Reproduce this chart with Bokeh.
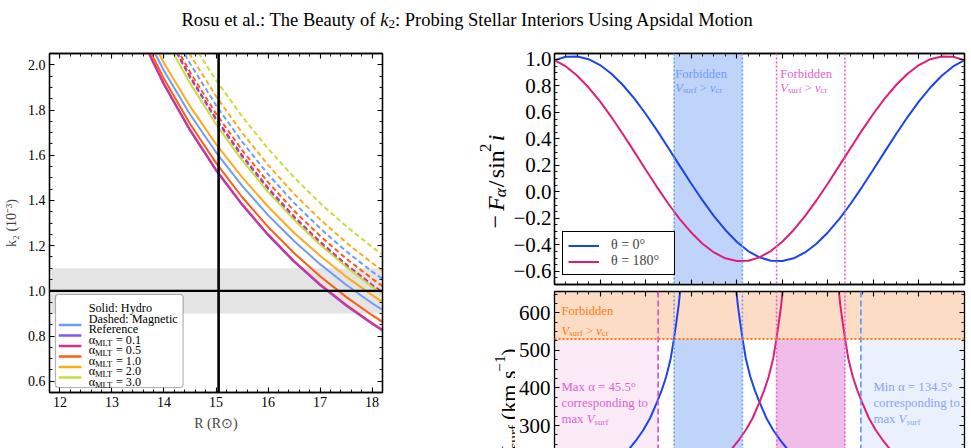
import math
from bokeh.plotting import figure
from bokeh.layouts import column, row
from bokeh.models import (Range1d, LinearAxis, Label, BoxAnnotation, Span, FixedTicker,
                          Legend, LegendItem, CustomJSTickFormatter)
from bokeh.embed import file_html
from bokeh.resources import INLINE

# ---------------- data: left panel (k2 vs R) ----------------
R_grid = [13.5, 14.0, 14.5, 15.0, 15.5, 16.0, 16.5, 17.0, 17.5, 18.0, 18.3]
series_names = ["Reference", "0.1", "0.5", "1.0", "2.0", "3.0"]
series_colors = ["#6e9cf7", "#7a5cf2", "#d8308a", "#ff5b12", "#ffaa1c", "#c6de3c"]
k2_hydro = {
    "Reference": [2.196, 1.974, 1.781, 1.613, 1.465, 1.335, 1.220, 1.118, 1.027, 0.945, 0.901],
    "0.1": [2.148, 1.912, 1.709, 1.532, 1.380, 1.246, 1.128, 1.025, 0.934, 0.853, 0.809],
    "0.5": [2.152, 1.916, 1.713, 1.536, 1.384, 1.250, 1.132, 1.029, 0.938, 0.857, 0.813],
    "1.0": [2.169, 1.938, 1.739, 1.566, 1.415, 1.283, 1.167, 1.064, 0.973, 0.892, 0.847],
    "2.0": [2.227, 2.008, 1.817, 1.649, 1.503, 1.373, 1.257, 1.155, 1.063, 0.981, 0.936],
    "3.0": [2.365, 2.126, 1.919, 1.737, 1.578, 1.438, 1.314, 1.204, 1.106, 1.018, 0.970],
}
k2_magnetic = {
    "Reference": [2.457, 2.215, 2.006, 1.821, 1.660, 1.516, 1.389, 1.277, 1.175, 1.085, 1.036],
    "0.1": [2.402, 2.156, 1.944, 1.757, 1.595, 1.451, 1.324, 1.212, 1.112, 1.022, 0.973],
    "0.5": [2.407, 2.161, 1.949, 1.762, 1.600, 1.456, 1.329, 1.217, 1.117, 1.027, 0.978],
    "1.0": [2.419, 2.177, 1.968, 1.784, 1.623, 1.481, 1.354, 1.243, 1.143, 1.054, 1.004],
    "2.0": [2.492, 2.253, 2.045, 1.861, 1.700, 1.557, 1.429, 1.316, 1.214, 1.123, 1.073],
    "3.0": [2.552, 2.318, 2.113, 1.932, 1.772, 1.629, 1.502, 1.388, 1.286, 1.194, 1.143],
}
R_observed = 15.05
k2_observed = 1.0
k2_err = 0.1
left_xticks = [12, 13, 14, 15, 16, 17, 18]
left_yticks = [0.6, 0.8, 1.0, 1.2, 1.4, 1.6, 1.8, 2.0]

# ---------------- data: right top (-F_alpha / sin^2 i) ----------------
alpha_deg = [0, 5, 10, 15, 20, 25, 30, 35, 40, 45, 50, 55, 60, 65, 70, 75, 80, 85, 90,
             95, 100, 105, 110, 115, 120, 125, 130, 135, 140, 145, 150, 155, 160, 165, 170, 175, 180]
F_theta0 = [0.995, 1.021, 1.023, 1.002, 0.958, 0.892, 0.807, 0.706, 0.590, 0.464, 0.331, 0.196,
            0.063, -0.065, -0.183, -0.288, -0.377, -0.447, -0.495, -0.521, -0.523, -0.502, -0.458,
            -0.392, -0.307, -0.206, -0.090, 0.036, 0.169, 0.304, 0.437, 0.565, 0.683, 0.788,
            0.877, 0.947, 0.995]
F_theta180 = [0.995, 0.947, 0.877, 0.788, 0.683, 0.565, 0.437, 0.304, 0.169, 0.036, -0.090,
              -0.206, -0.307, -0.392, -0.458, -0.502, -0.523, -0.521, -0.495, -0.447, -0.377,
              -0.288, -0.183, -0.065, 0.063, 0.196, 0.331, 0.464, 0.590, 0.706, 0.807, 0.892,
              0.958, 1.002, 1.023, 1.021, 0.995]
top_xticks = [0, 20, 40, 60, 80, 100, 120, 140, 160, 180]
top_yticks = [-0.6, -0.4, -0.2, 0.0, 0.2, 0.4, 0.6, 0.8, 1.0]
forbid_theta0 = (52.5, 82.5)
forbid_theta180 = (97.5, 127.5)

# ---------------- data: right bottom (V_surf) ----------------
alpha_t0_left = [25, 30, 33, 36, 39, 42, 45, 47, 49, 51, 52.5, 53.5, 54.5, 55.2, 55.8]
vsurf_t0_left = [190, 218, 239, 262, 288, 320, 362, 393, 429, 478, 533, 575, 620, 660, 700]
alpha_t0_right = [79.2, 79.8, 80.5, 81.5, 82.5, 84, 86, 88, 90, 93, 96, 99, 102, 105, 110]
vsurf_t0_right = [700, 660, 620, 575, 533, 478, 429, 393, 362, 320, 288, 262, 239, 218, 190]
alpha_t180_left = [70, 75, 78, 81, 84, 87, 90, 92, 94, 96, 97.5, 98.5, 99.5, 100.2, 100.8]
vsurf_t180_left = [190, 218, 239, 262, 288, 320, 362, 393, 429, 478, 533, 575, 620, 660, 700]
alpha_t180_right = [124.2, 124.8, 125.5, 126.5, 127.5, 129, 131, 133, 135, 138, 141, 144, 147, 150, 155]
vsurf_t180_right = [700, 660, 620, 575, 533, 478, 429, 393, 362, 320, 288, 262, 239, 218, 190]
v_crit = 530
max_alpha = 45.5
min_alpha = 134.5
bot_yticks = [300, 400, 500, 600]

BLUE = "#1a44f0"
MAG = "#dc1f78"
BLUE_L = "#6d9bf5"
MAG_L = "#de5fd3"
ORANGE = "#ff7a12"
FONT = "Liberation Serif"
AXFONT = "'Liberation Serif', 'Times New Roman', serif"

# ---------------- geometry helpers (page pixel -> data) ----------------
LEFT = dict(x0=11.8, x1=18.2, y0=0.55, y1=2.05, l=48, r=382, t=53, b=392)
TR = dict(x0=0.0, x1=180.0, y0=-0.70, y1=1.045, l=553, r=964, t=53, b=284)
BR = dict(x0=0.0, x1=180.0, y0=238.8, y1=656.7, l=553, r=964, t=291, b=448)
HD = dict(x0=0.0, x1=1.0, y0=0.0, y1=1.0, l=0, r=971, t=0, b=40)
LB2 = dict(x0=0.0, x1=1.0, y0=0.0, y1=1.0, l=470, r=510, t=40, b=287)
LB3 = dict(x0=0.0, x1=1.0, y0=0.0, y1=1.0, l=470, r=515, t=287, b=448)


def dx(P, px):
    return P["x0"] + (px - P["l"]) / (P["r"] - P["l"]) * (P["x1"] - P["x0"])


def dy(P, py):
    return P["y0"] + (P["b"] - py) / (P["b"] - P["t"]) * (P["y1"] - P["y0"])


TW = {' ': .25, 'a': .444, 'b': .5, 'c': .444, 'd': .5, 'e': .444, 'f': .333, 'g': .5, 'h': .5,
      'i': .278, 'j': .278, 'k': .5, 'l': .278, 'm': .778, 'n': .5, 'o': .5, 'p': .5, 'q': .5,
      'r': .333, 's': .389, 't': .278, 'u': .5, 'v': .5, 'w': .722, 'x': .5, 'y': .5, 'z': .444,
      'A': .722, 'B': .667, 'C': .667, 'D': .722, 'E': .611, 'F': .556, 'H': .722, 'I': .333,
      'L': .611, 'M': .889, 'P': .556, 'R': .667, 'S': .556, 'T': .611, 'U': .722, 'V': .722,
      '.': .25, ':': .278, '=': .564, '>': .564, '(': .333, ')': .333, '°': .4, '−': .564,
      '/': .278, 'α': .52, 'θ': .5}
TWI = {'V': .611, 'F': .611, 'k': .444, 'v': .444, 'i': .278}


def tw(s, size, italic=False):
    tot = 0.0
    for ch in s:
        if italic and ch in TWI:
            tot += TWI[ch]
        else:
            tot += TW.get(ch, 0.5)
    return tot * size


def rich(p, P, px, py, segs, color, rotated=False, baseline="alphabetic"):
    """segs: list of (text, size, style, shift_up_px); text None = gap of `size` px"""
    off = 0.0
    for text, size, style, shift in segs:
        if text is None:
            off += size
            continue
        lead = len(text) - len(text.lstrip(" "))
        off += lead * TW[' '] * size
        body = text.strip(" ")
        trail = len(text) - lead - len(body)
        if not rotated:
            x, y = dx(P, px + off), dy(P, py - shift)
            ang = 0.0
        else:
            x, y = dx(P, px - shift), dy(P, py - off)
            ang = math.pi / 2
        p.add_layout(Label(x=x, y=y, text=body, text_font=FONT, text_font_size=f"{size}px",
                           text_font_style=style, text_color=color, text_baseline=baseline,
                           text_align="left", angle=ang))
        off += tw(body, size, style == "italic") + trail * TW[' '] * size


def style_axis(ax, ticks, minor, labels, fs=14, fmt=None, standoff=4):
    ax.ticker = FixedTicker(ticks=ticks, minor_ticks=minor)
    ax.axis_line_color = "black"
    ax.axis_line_width = 1.3
    ax.major_tick_line_color = "black"
    ax.major_tick_line_width = 1.1
    ax.minor_tick_line_color = "black"
    ax.minor_tick_line_width = 0.9
    ax.major_tick_in = 5
    ax.major_tick_out = 0
    ax.minor_tick_in = 3
    ax.minor_tick_out = 0
    if labels:
        ax.major_label_text_font = AXFONT
        ax.major_label_text_font_size = f"{fs}px"
        ax.major_label_text_font_style = "normal"
        ax.major_label_text_color = "black"
        ax.major_label_standoff = standoff
        if fmt:
            ax.formatter = CustomJSTickFormatter(code=fmt)
    else:
        ax.major_label_text_font_size = "0px"
        ax.major_label_text_alpha = 0
        ax.major_label_standoff = 0


def base_fig(**kw):
    p = figure(toolbar_location=None, output_backend="svg", **kw)
    p.grid.visible = False
    p.background_fill_color = "white"
    p.border_fill_color = "white"
    return p


def text_fig(w, h):
    p = base_fig(width=w, height=h, x_range=Range1d(0, 1), y_range=Range1d(0, 1), min_border=0,
                 x_axis_location=None, y_axis_location=None)
    p.outline_line_color = None
    return p


FMT1 = "return tick.toFixed(1).replace('-', '\\u2212');"

# ---------------- header ----------------
hdr = text_fig(971, 40)
rich(hdr, HD, 181, 19.5, [("Rosu et al.: The Beauty of ", 18.5, "normal", 0),
                          ("k", 18.5, "italic", 0), ("2", 13, "normal", -3.5),
                          (": Probing Stellar Interiors Using Apsidal Motion", 18.5, "normal", 0)],
     "black")

# ---------------- left panel ----------------
p1 = base_fig(width=470, height=408, x_range=Range1d(LEFT["x0"], LEFT["x1"]),
              y_range=Range1d(LEFT["y0"], LEFT["y1"]),
              min_border_left=48, min_border_right=88, min_border_top=13, min_border_bottom=56)
p1.outline_line_color = "black"
p1.outline_line_width = 1.3
p1.add_layout(LinearAxis(), "above")
p1.add_layout(LinearAxis(), "right")
lx_minor = [11.8 + 0.2 * i for i in range(33)]
ly_minor = [0.55 + 0.05 * i for i in range(31)]
for ax in p1.below:
    style_axis(ax, left_xticks, lx_minor, True, 14)
    ax.axis_label = "R (R⊙)"
for ax in p1.left:
    style_axis(ax, left_yticks, ly_minor, True, 14, FMT1)
    ax.axis_label = "k₂ (10⁻³)"
for ax in p1.above:
    style_axis(ax, left_xticks, lx_minor, False)
for ax in p1.right:
    style_axis(ax, left_yticks, ly_minor, False)
for ax in p1.below + p1.left:
    ax.axis_label_text_font = AXFONT
    ax.axis_label_text_font_size = "14px"
    ax.axis_label_text_font_style = "normal"
    ax.axis_label_standoff = 6
    ax.major_label_standoff = 4

p1.add_layout(BoxAnnotation(bottom=k2_observed - k2_err, top=k2_observed + k2_err,
                            fill_color="#e4e4e4", fill_alpha=1, line_color=None, level="underlay"))
order = ["0.1", "Reference", "0.5", "1.0", "2.0", "3.0"]
for name in order:
    c = series_colors[series_names.index(name)]
    p1.line(R_grid, k2_magnetic[name], line_color=c, line_width=2, line_dash="5 3")
for name in order:
    c = series_colors[series_names.index(name)]
    p1.line(R_grid, k2_hydro[name], line_color=c, line_width=2)
p1.add_layout(Span(location=R_observed, dimension="height", line_color="black", line_width=2.6))
p1.add_layout(Span(location=k2_observed, dimension="width", line_color="black", line_width=2.2))

# manual legend (left panel)
p1.add_layout(BoxAnnotation(left=dx(LEFT, 54), right=dx(LEFT, 182), top=dy(LEFT, 294),
                            bottom=dy(LEFT, 387), fill_color="white", fill_alpha=1,
                            line_color="black", line_width=1.2, border_radius=3))
leg_rows = [("Solid: Hydro", None), ("Dashed: Magnetic", None)] + \
           [(n, series_colors[i]) for i, n in enumerate(series_names)]
for i, (name, col) in enumerate(leg_rows):
    yc = 303.5 + 10.5 * i
    if col is not None:
        p1.add_layout(BoxAnnotation(left=dx(LEFT, 57.3), right=dx(LEFT, 80), top=dy(LEFT, yc - 1.2),
                                    bottom=dy(LEFT, yc + 1.2), fill_color=col, fill_alpha=1,
                                    line_color=None))
    if name in ("Solid: Hydro", "Dashed: Magnetic", "Reference"):
        segs = [(name, 12.2, "normal", 0)]
    else:
        segs = [("α", 12.2, "normal", 0), ("MLT", 8.5, "normal", -3), (" = " + name, 12.2, "normal", 0)]
    rich(p1, LEFT, 87.3, yc + 4, segs, "black")

# ---------------- right top panel ----------------
lab2 = text_fig(40, 247)
p2 = base_fig(width=461, height=247, x_range=Range1d(TR["x0"], TR["x1"]),
              y_range=Range1d(TR["y0"], TR["y1"]),
              min_border_left=43, min_border_right=7, min_border_top=13, min_border_bottom=3)
p2.outline_line_color = "black"
p2.outline_line_width = 1.3
p2.add_layout(LinearAxis(), "above")
p2.add_layout(LinearAxis(), "right")
tx_minor = [5 * i for i in range(37)]
ty_minor = [-0.7 + 0.05 * i for i in range(36)]
for ax in p2.below + p2.above:
    style_axis(ax, top_xticks, tx_minor, False)
for ax in p2.left:
    style_axis(ax, top_yticks, ty_minor, True, 21, FMT1, standoff=3)
for ax in p2.right:
    style_axis(ax, top_yticks, ty_minor, False)

p2.add_layout(BoxAnnotation(left=forbid_theta0[0], right=forbid_theta0[1], fill_color="#c0d3f9",
                            fill_alpha=1, line_color=None, level="underlay"))
for loc in forbid_theta0:
    p2.add_layout(Span(location=loc, dimension="height", line_color=BLUE_L, line_width=1.6,
                       line_dash="2 2"))
for loc in forbid_theta180:
    p2.add_layout(Span(location=loc, dimension="height", line_color=MAG_L, line_width=1.6,
                       line_dash="2 2"))
l_t0 = p2.line(alpha_deg, F_theta0, line_color=BLUE, line_width=2)
l_t180 = p2.line(alpha_deg, F_theta180, line_color=MAG, line_width=2)

vsurf_segs = [("V", 12.6, "italic", 0), ("surf", 8.8, "normal", -2.5),
              (" > ", 12.6, "normal", 0), ("v", 12.6, "italic", 0), ("cr", 8.8, "normal", -2.5)]
rich(p2, TR, 674, 73.3, [("Forbidden", 12.6, "normal", 0)], BLUE_L)
rich(p2, TR, 674, 87, vsurf_segs, BLUE_L)
rich(p2, TR, 779.3, 73.3, [("Forbidden", 12.6, "normal", 0)], MAG_L)
rich(p2, TR, 779.3, 87, vsurf_segs, MAG_L)

# y label (rotated) in its own strip
rich(lab2, LB2, 495, 227, [("−", 24, "normal", 0), (None, 5, None, 0), ("F", 24, "italic", 0),
                           ("α", 17, "italic", -5), (None, 2, None, 0), ("/", 24, "normal", 0),
                           (None, 3, None, 0), ("sin", 24, "normal", 0), ("2", 17, "normal", 10),
                           (None, 3, None, 0), ("i", 24, "italic", 0)],
     "black", rotated=True)

leg = Legend(items=[LegendItem(label="θ = 0°", renderers=[l_t0]),
                    LegendItem(label="θ = 180°", renderers=[l_t180])],
             location=(8, 9), orientation="vertical")
leg.label_text_font = AXFONT
leg.label_text_font_size = "14px"
leg.border_line_color = "black"
leg.border_line_width = 1.2
leg.border_line_alpha = 1
leg.background_fill_alpha = 1
leg.glyph_width = 31
leg.glyph_height = 15
leg.label_height = 15
leg.label_width = 58
leg.label_standoff = 12
leg.padding = 5
leg.spacing = 0
leg.margin = 0
p2.add_layout(leg, "center")

# ---------------- right bottom panel ----------------
lab3 = text_fig(45, 161)
p3 = base_fig(width=456, height=161, x_range=p2.x_range, y_range=Range1d(BR["y0"], BR["y1"]),
              min_border_left=38, min_border_right=7, min_border_top=4, min_border_bottom=0,
              x_axis_location="above")
p3.outline_line_color = None
p3.add_layout(LinearAxis(), "right")
by_minor = [225 + 25 * i for i in range(18)]
for ax in p3.above:
    style_axis(ax, top_xticks, tx_minor, False)
for ax in p3.left:
    style_axis(ax, bot_yticks, by_minor, True, 21)
for ax in p3.right:
    style_axis(ax, bot_yticks, by_minor, False)

p3.add_layout(BoxAnnotation(bottom=v_crit, fill_color="#fcdcc5", fill_alpha=1, line_color=None,
                            level="underlay"))
p3.add_layout(BoxAnnotation(right=max_alpha, top=v_crit, fill_color="#f9eaf6", fill_alpha=1,
                            line_color=None, level="underlay"))
p3.add_layout(BoxAnnotation(left=forbid_theta0[0], right=forbid_theta0[1], top=v_crit,
                            fill_color="#c0d3f9", fill_alpha=1, line_color=None, level="underlay"))
p3.add_layout(BoxAnnotation(left=forbid_theta180[0], right=forbid_theta180[1], top=v_crit,
                            fill_color="#f0bde9", fill_alpha=1, line_color=None, level="underlay"))
p3.add_layout(BoxAnnotation(left=min_alpha, top=v_crit, fill_color="#ebf0fd", fill_alpha=1,
                            line_color=None, level="underlay"))
for loc in forbid_theta0:
    p3.add_layout(Span(location=loc, dimension="height", line_color=BLUE_L, line_width=1.6,
                       line_dash="2 2"))
for loc in forbid_theta180:
    p3.add_layout(Span(location=loc, dimension="height", line_color=MAG_L, line_width=1.6,
                       line_dash="2 2"))
p3.add_layout(Span(location=max_alpha, dimension="height", line_color="#d95ccb", line_width=1.8,
                   line_dash="6 3"))
p3.add_layout(Span(location=min_alpha, dimension="height", line_color=BLUE_L, line_width=1.8,
                   line_dash="6 3"))
p3.add_layout(Span(location=v_crit, dimension="width", line_color=ORANGE, line_width=2,
                   line_dash="2 2"))
p3.line(alpha_t0_left, vsurf_t0_left, line_color=BLUE, line_width=2)
p3.line(alpha_t0_right, vsurf_t0_right, line_color=BLUE, line_width=2)
p3.line(alpha_t180_left, vsurf_t180_left, line_color=MAG, line_width=2)
p3.line(alpha_t180_right, vsurf_t180_right, line_color=MAG, line_width=2)

rich(p3, BR, 560, 310.7, [("Forbidden", 12.6, "normal", 0)], ORANGE)
rich(p3, BR, 560, 330, vsurf_segs, ORANGE)
for px, txt, col in [(560, "Max α = 45.5°", "#de62d2"), (872.7, "Min α = 134.5°", "#85a6f5")]:
    rich(p3, BR, px, 386, [(txt, 12.8, "normal", 0)], col)
    rich(p3, BR, px, 402, [("corresponding to", 12.8, "normal", 0)], col)
    rich(p3, BR, px, 418.5, [("max ", 12.8, "normal", 0), ("V", 12.8, "italic", 0),
                             ("surf", 9, "normal", -2.5)], col)

# y label (rotated) in its own strip; its lower part runs off the page like the reference
rich(lab3, LB3, 508, 461.7, [("V", 22, "italic", 0), ("surf", 15.4, "normal", -4.5),
                             (" (km s", 22, "normal", 0), ("−1", 15.4, "normal", 9),
                             (")", 22, "normal", 0)], "black", rotated=True)

layout = column(hdr, row(p1, column(row(lab2, p2), row(lab3, p3))))
open("out.html", "w").write(file_html(layout, INLINE))
